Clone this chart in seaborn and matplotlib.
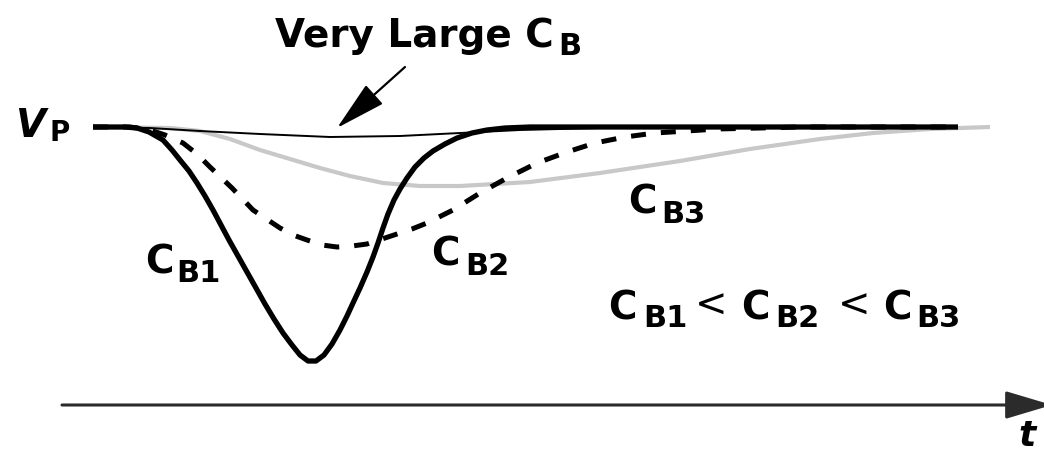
# bootstrapping / well-capacitor sketch: V_P dip for different C_B
import seaborn as sns
import matplotlib.pyplot as plt

# ---- data (t = time, v = deviation from V_P) ----
t_cb1 = [0, 32, 44, 56, 70, 79, 87, 96, 104, 112, 120, 128, 136, 145, 154, 163, 172, 181,
         190, 199, 207, 215, 223, 231, 239, 247, 254, 260, 267, 274, 280, 285, 290, 295,
         301, 307, 314, 322, 331, 340, 352, 364, 379, 394, 412, 437, 865]
v_cb1 = [0, 0, -1, -5, -13, -23, -33, -44, -56, -69, -83, -98, -113, -129, -145, -161, -177, -192,
         -206, -218, -228, -234, -234, -228, -217, -203, -189, -176, -161, -145, -130, -116, -101, -87,
         -73, -62, -51, -40, -31, -24, -17, -11, -6, -3, -1, 0, 0]

t_cb2 = [0, 37, 57, 72, 90, 104, 117, 139, 160, 175, 187, 200, 214, 229, 244, 259, 274,
         289, 304, 319, 334, 360, 387, 414, 444, 474, 502, 532, 562, 594, 624, 667, 707, 865]
v_cb2 = [0, 0, -3, -8, -16, -27, -40, -61, -83, -93, -101, -108, -113, -118, -120, -119, -117,
         -112, -107, -102, -96, -83, -66, -51, -36, -25, -16, -10, -6, -4, -2, -1, 0, 0]

t_cb3 = [0, 77, 107, 137, 167, 197, 227, 257, 290, 327, 367, 437, 507, 587, 657, 727, 780, 837, 897]
v_cb3 = [0, -1, -4, -12, -23, -32, -41, -49, -56, -59, -59, -55, -46, -34, -22, -12, -6, -2, 0]

t_big = [0, 57, 107, 167, 237, 307, 367, 427, 507, 607, 865]
v_big = [0, -1, -4, -7, -10, -9, -6, -3, -1, 0, 0]

sns.set_theme(style="white")
plt.rcParams["font.family"] = ["DejaVu Sans"]
plt.rcParams["text.color"] = "black"

fig = plt.figure(figsize=(10.44, 4.58), dpi=100)
ax = fig.add_axes([0, 0, 1, 1])
ax.set_xlim(-93, 951)
ax.set_ylim(-331, 127)
ax.axis("off")


def px(x, y):
    # picture pixel -> data coords
    return x - 93, 127 - y


line_kw = dict(sort=False, estimator=None, solid_joinstyle="round", solid_capstyle="butt")

# curves
sns.lineplot(x=t_cb3, y=v_cb3, ax=ax, color="#c8c8c8", linewidth=3.0, **line_kw)
sns.lineplot(x=t_big, y=v_big, ax=ax, color="black", linewidth=1.4, **line_kw)
sns.lineplot(x=t_cb2, y=v_cb2, ax=ax, color="black", linewidth=3.6, linestyle=(0, (3, 3)), **line_kw)
sns.lineplot(x=t_cb1, y=v_cb1, ax=ax, color="black", linewidth=3.8, **line_kw)

# time axis
ax.annotate("", xy=px(1052, 405), xytext=px(62, 405), annotation_clip=False,
            arrowprops=dict(arrowstyle="-|>,head_length=1.44,head_width=0.43", mutation_scale=20,
                            color="#2b2b2b", lw=2.2, shrinkA=0, shrinkB=0))
ax.text(*px(1018, 446), "t", fontsize=26, fontweight="bold", fontstyle="italic", ha="left", va="baseline")

# "very large" pointer
ax.annotate("", xy=px(337, 128), xytext=px(405, 67), annotation_clip=False,
            arrowprops=dict(arrowstyle="-|>,head_length=1.6,head_width=0.4", mutation_scale=20,
                            color="black", lw=1.6, shrinkA=0, shrinkB=0))


def lbl(x, y, s, size=28, style="normal", weight="bold"):
    ax.text(*px(x, y), s, fontsize=size, fontweight=weight, fontstyle=style, ha="left", va="baseline")


lbl(275, 47, "Very Large C")
lbl(558, 55, "B", 22)

lbl(15, 137, "V", 28, "italic")
lbl(50, 141, "P", 20)

lbl(145, 273, "C")
lbl(176, 282, "B1", 22)
lbl(431, 266, "C")
lbl(465, 275, "B2", 22)
lbl(628, 213, "C")
lbl(661, 223, "B3", 22)

lbl(608, 320, "C")
lbl(643, 327, "B1", 22)
ax.text(*px(711, 306), "<", fontsize=28, ha="center", va="center")
lbl(741, 320, "C")
lbl(775, 327, "B2", 22)
ax.text(*px(854, 306), "<", fontsize=28, ha="center", va="center")
lbl(883, 320, "C")
lbl(916, 327, "B3", 22)

plt.savefig("out.png", dpi=100)
